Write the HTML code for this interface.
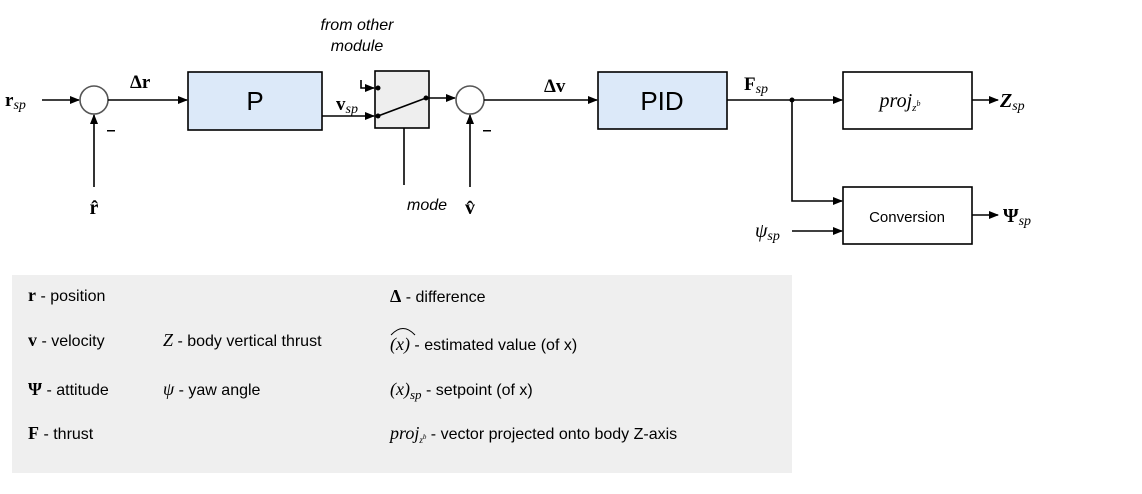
<!DOCTYPE html>
<html><head><meta charset="utf-8"><style>
body{margin:0;background:#fff;width:1142px;height:489px;overflow:hidden}
svg text{font-family:"Liberation Sans",sans-serif}
.s{font-family:"Liberation Serif",serif}
</style></head><body>
<svg width="1142" height="489" viewBox="0 0 1142 489">
<defs><marker id="a" markerWidth="10" markerHeight="8" refX="9" refY="4" orient="auto" markerUnits="userSpaceOnUse"><path d="M0,0L10,4L0,8z" fill="#000"/></marker></defs>
<g stroke="#000" stroke-width="1.6" fill="none">
<line x1="42" y1="100" x2="79" y2="100" marker-end="url(#a)"/>
<circle cx="94" cy="100" r="14" stroke="#555"/>
<line x1="94" y1="187" x2="94" y2="115" marker-end="url(#a)"/>
<line x1="108" y1="100" x2="187" y2="100" marker-end="url(#a)"/>
<rect x="188" y="72" width="134" height="58" fill="#dce9f9"/>
<rect x="375" y="71" width="54" height="57" fill="#eeeeee"/>
<line x1="322" y1="116" x2="374" y2="116" marker-end="url(#a)"/>
<polyline points="361,80 361,88 374,88" marker-end="url(#a)"/>
<line x1="378" y1="116" x2="426" y2="98"/>
<line x1="426" y1="98" x2="455" y2="98" marker-end="url(#a)"/>
<line x1="404" y1="128" x2="404" y2="185"/>
<circle cx="470" cy="100" r="14" stroke="#555"/>
<line x1="470" y1="187" x2="470" y2="115" marker-end="url(#a)"/>
<line x1="484" y1="100" x2="597" y2="100" marker-end="url(#a)"/>
<rect x="598" y="72" width="129" height="57" fill="#dce9f9"/>
<line x1="727" y1="100" x2="842" y2="100" marker-end="url(#a)"/>
<polyline points="792,100 792,201 842,201" marker-end="url(#a)"/>
<line x1="792" y1="231" x2="842" y2="231" marker-end="url(#a)"/>
<rect x="843" y="72" width="129" height="57"/>
<rect x="843" y="187" width="129" height="57"/>
<line x1="972" y1="100" x2="998" y2="100" marker-end="url(#a)"/>
<line x1="972" y1="215" x2="998" y2="215" marker-end="url(#a)"/>
</g>
<g fill="#000"><circle cx="378" cy="88" r="2.5"/><circle cx="378" cy="116" r="2.5"/><circle cx="426" cy="98" r="2.5"/><circle cx="792" cy="100" r="2.5"/></g>
<rect x="107" y="130" width="8" height="1.5"/><rect x="483" y="130" width="8" height="1.5"/>
<text x="5" y="106" class="s" font-size="19" font-weight="bold">r<tspan font-size="14" font-style="italic" font-weight="normal" dy="3">sp</tspan></text>
<text x="130" y="88" class="s" font-size="19" font-weight="bold">Δr</text>
<text x="94" y="214" class="s" font-size="20" font-weight="bold" text-anchor="middle">r̂</text>
<text x="255" y="110" font-size="26" text-anchor="middle">P</text>
<text x="336" y="110" class="s" font-size="19" font-weight="bold">v<tspan font-size="14" font-style="italic" font-weight="normal" dy="3">sp</tspan></text>
<text x="357" y="30" font-size="16" font-style="italic" text-anchor="middle">from other</text>
<text x="357" y="51" font-size="16" font-style="italic" text-anchor="middle">module</text>
<text x="407" y="210" font-size="16" font-style="italic">mode</text>
<text x="470" y="214" class="s" font-size="20" font-weight="bold" text-anchor="middle">v̂</text>
<text x="544" y="92" class="s" font-size="19" font-weight="bold">Δv</text>
<text x="662" y="110" font-size="26" text-anchor="middle">PID</text>
<text x="744" y="90" class="s" font-size="19" font-weight="bold">F<tspan font-size="14" font-style="italic" font-weight="normal" dy="3">sp</tspan></text>
<text x="900" y="107" class="s" font-size="20" font-style="italic" text-anchor="middle">proj<tspan font-size="11" dy="4">z</tspan><tspan font-size="8" dy="-5">b</tspan></text>
<text x="1000" y="107" class="s" font-size="20" font-style="italic" font-weight="bold">Z<tspan font-size="14" font-weight="normal" dy="3">sp</tspan></text>
<text x="907" y="222" font-size="15" text-anchor="middle">Conversion</text>
<text x="1003" y="222" class="s" font-size="20" font-weight="bold">Ψ<tspan font-size="14" font-style="italic" font-weight="normal" dy="3">sp</tspan></text>
<text x="755" y="237" class="s" font-size="20" font-style="italic">ψ<tspan font-size="14" dy="3">sp</tspan></text>
<rect x="12" y="275" width="780" height="198" fill="#efefef"/>
<g font-size="16">
<text x="28" y="301"><tspan class="s" font-size="18" font-weight="bold">r</tspan> - position</text>
<text x="28" y="346"><tspan class="s" font-size="18" font-weight="bold">v</tspan> - velocity</text>
<text x="28" y="395"><tspan class="s" font-size="18" font-weight="bold">Ψ</tspan> - attitude</text>
<text x="28" y="439"><tspan class="s" font-size="18" font-weight="bold">F</tspan> - thrust</text>
<text x="163" y="346"><tspan class="s" font-size="18" font-style="italic">Z</tspan> - body vertical thrust</text>
<text x="163" y="395"><tspan class="s" font-size="18" font-style="italic">ψ</tspan> - yaw angle</text>
<text x="390" y="302"><tspan class="s" font-size="18" font-weight="bold">Δ</tspan> - difference</text>
<text x="390" y="350"><tspan class="s" font-size="18" font-style="italic">(x)</tspan> - estimated value (of x)</text>
<text x="390" y="395"><tspan class="s" font-size="18" font-style="italic">(x)<tspan font-size="13" dy="4">sp</tspan></tspan><tspan dy="-4"> - setpoint (of x)</tspan></text>
<text x="390" y="439"><tspan class="s" font-size="18" font-style="italic">proj<tspan font-size="9" dy="4">z</tspan><tspan font-size="7" dy="-4">b</tspan></tspan><tspan dy="0"> - vector projected onto body Z-axis</tspan></text>
</g>
<path d="M391,335 Q403,322 415,335" stroke="#000" stroke-width="1" fill="none"/>
</svg>
</body></html>
